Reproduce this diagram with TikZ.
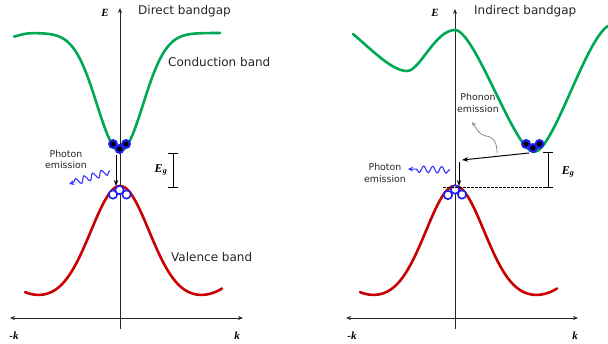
\documentclass[tikz,border=0pt]{standalone}
\usepackage{fontspec}
\newfontfamily\labfont{DejaVu Sans}
\newfontfamily\symfont{Liberation Serif}
\usetikzlibrary{arrows.meta,decorations.pathmorphing}
\definecolor{cband}{RGB}{0,168,84}
\definecolor{vband}{RGB}{200,0,0}
\definecolor{carrier}{RGB}{30,30,240}
\definecolor{wavec}{RGB}{50,50,255}
\begin{document}
\begin{tikzpicture}[x=1pt,y=-1pt,
  axis/.style={line width=0.8pt, draw=black!85},
  tip/.style={-{Stealth[length=5pt,width=4pt]}},
  band/.style={line width=2.6pt, line cap=round},
  lbl/.style={font=\labfont\fontsize{12}{14}\selectfont, anchor=west, inner sep=0pt, text=black!85},
  small/.style={font=\labfont\fontsize{9.4}{11.5}\selectfont, align=center, inner sep=0pt, text=black!85},
  sym/.style={font=\symfont\bfseries\itshape\fontsize{11}{13}\selectfont, inner sep=0pt},
  electron/.style={circle, fill=carrier, minimum size=10pt, inner sep=0pt,
     path picture={\fill[black] (path picture bounding box.center) circle (2.7pt);}},
  hole/.style={circle, draw=carrier, fill=white, line width=1.6pt, minimum size=8.4pt, inner sep=0pt},
  trans/.style={line width=1pt, -{Stealth[length=6pt,width=4.5pt]}},
  wave/.style={draw=wavec, line width=1.1pt, decorate,
     decoration={snake, amplitude=3.3pt, segment length=9pt, pre length=1pt, post length=4pt},
     -{Stealth[length=5pt,width=5pt]}},
  gapbar/.style={line width=0.8pt},
]
\useasboundingbox (0,0) rectangle (608,344);

% ===================== Direct bandgap =====================
\coordinate (dEb) at (120,329);
\coordinate (dEt) at (120,8);
\coordinate (dkl) at (10,318);
\coordinate (dkr) at (243,318);
\draw[axis, tip] (dEb) -- (dEt);
\draw[axis, {Stealth[length=5pt,width=4pt]}-{Stealth[length=5pt,width=4pt]}] (dkl) -- (dkr);
\node[sym] (dE) at (105,13) {E};
\node[sym] (dmk) at (14,336) {-k};
\node[sym] (dk) at (237,336) {k};
\node[lbl] (dtitle) at (138,11) {Direct bandgap};
\node[lbl] (dcb) at (168,62) {Conduction band};
\node[lbl] (dvb) at (171,257) {Valence band};

\draw[band, cband] plot[domain=14:220, samples=140, smooth]
  (\x, {33+118*exp(-((\x-120)^2)/(2*23*23)) + 4*exp(-((\x-10)/12)^2)});
\draw[band, vband] plot[domain=25:222, samples=140, smooth]
  (\x, {186+114*(1-exp(-((\x-120)^2)/(2*29*29))) - 10*(abs(\x-120)/100)^6});

\node[electron] (de1) at (113,144) {};
\node[electron] (de2) at (126,144) {};
\node[electron] (de3) at (119.5,149) {};
\node[hole] (dh1) at (113,194.5) {};
\node[hole] (dh3) at (126.5,194.5) {};
\node[hole] (dh2) at (119.5,190) {};

\coordinate (dts) at (116,155);
\coordinate (dte) at (116,186);
\draw[trans] (dts) -- (dte);

\node[small] (dpe) at (66,159.5) {Photon\\emission};
\coordinate (dws) at (110,171);
\coordinate (dwe) at (69,184);
\draw[wave] (dws) -- (dwe);

\coordinate (dgt) at (173,153);
\coordinate (dgb) at (173,187);
\draw[gapbar] (dgt) -- (dgb);
\draw[gapbar] ([xshift=-5pt]dgt) -- ([xshift=5pt]dgt);
\draw[gapbar] ([xshift=-5pt]dgb) -- ([xshift=5pt]dgb);
\node[sym, font=\symfont\bfseries\itshape\fontsize{12}{14}\selectfont] (dEg) at (161,170) {E\textsubscript{g}};

% ===================== Indirect bandgap =====================
\coordinate (iEb) at (455,329);
\coordinate (iEt) at (455,9);
\coordinate (ikl) at (346,318);
\coordinate (ikr) at (578,318);
\draw[axis, tip] (iEb) -- (iEt);
\draw[axis, {Stealth[length=5pt,width=4pt]}-{Stealth[length=5pt,width=4pt]}] (ikl) -- (ikr);
\node[sym] (iE) at (435,13) {E};
\node[sym] (imk) at (352,336) {-k};
\node[sym] (ik) at (575,336) {k};
\node[lbl] (ititle) at (474,11) {Indirect bandgap};

\draw[band, cband] (353,34) .. controls (372,50) and (392,71) .. (407,71)
  .. controls (420,71) and (435,30) .. (455,30)
  .. controls (475,30) and (515,152) .. (534,152)
  .. controls (553,152) and (585,40) .. (608,26);
\draw[band, vband] plot[domain=360:557, samples=140, smooth]
  (\x, {186+114*(1-exp(-((\x-455)^2)/(2*29*29))) - 10*(abs(\x-455)/100)^6});

\node[electron] (ie1) at (526,144) {};
\node[electron] (ie3) at (539.5,144) {};
\node[electron] (ie2) at (533,148) {};
\node[hole] (ih1) at (448,195) {};
\node[hole] (ih3) at (462,194.5) {};
\node[hole] (ih2) at (455,189.5) {};

\coordinate (its) at (529,153);
\coordinate (ite) at (462,160);
\draw[trans] (its) -- (ite);
\coordinate (ivs) at (459,162);
\coordinate (ive) at (459,186);
\draw[trans] (ivs) -- (ive);

\coordinate (idl) at (443,187);
\coordinate (idr) at (547,187);
\draw[line width=0.6pt, dash pattern=on 2.5pt off 1.5pt] (idl) -- (idr);

\coordinate (igt) at (548,152);
\coordinate (igb) at (548,187);
\draw[gapbar] (igt) -- (igb);
\draw[gapbar] ([xshift=-5pt]igt) -- ([xshift=5pt]igt);
\draw[gapbar] ([xshift=-5pt]igb) -- ([xshift=5pt]igb);
\node[sym, font=\symfont\bfseries\itshape\fontsize{12}{14}\selectfont] (iEg) at (568,172) {E\textsubscript{g}};

\node[small] (ipe) at (385,173) {Photon\\emission};
\coordinate (iws) at (450,170);
\coordinate (iwe) at (408,169);
\draw[wave] (iws) -- (iwe);

\node[small] (iph) at (478,103) {Phonon\\emission};
\coordinate (ips) at (497,153);
\coordinate (ipe2) at (472,122);
\draw[black!45, line width=0.8pt, -{Stealth[length=4.5pt,width=4pt]}]
  (ips) .. controls (497,143) and (494,137) .. (486,136)
        .. controls (479,135) and (477,129) .. (ipe2);
\end{tikzpicture}
\end{document}
